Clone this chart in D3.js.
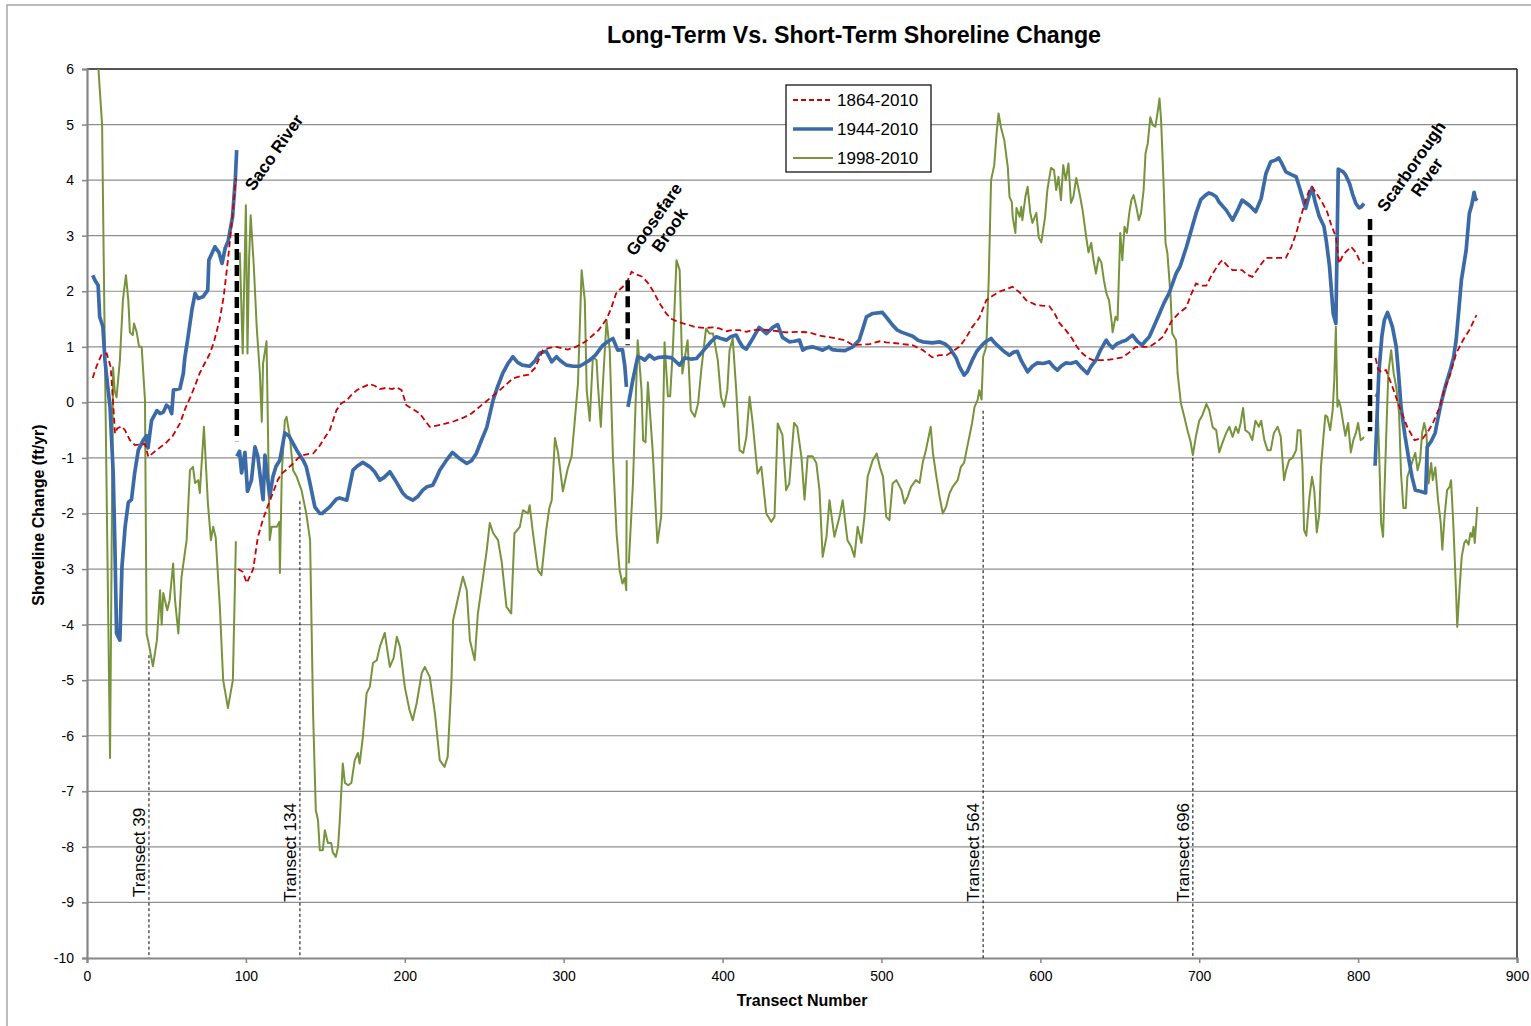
<!DOCTYPE html>
<html>
<head>
<meta charset="utf-8">
<script src="https://cdn.jsdelivr.net/npm/d3@7"></script>
<style>
  html, body { margin: 0; padding: 0; background: #fff; }
  svg { display: block; }
  text { font-family: "Liberation Sans", Arial, sans-serif; fill: #000; }
</style>
</head>
<body>
<svg id="chart" width="1531" height="1026"></svg>
<script>
// Shoreline change rate (ft/yr) by transect; null breaks the line at river inlets.
const longTerm1864 = [
  [3.6,0.44],[6,0.65],[9,0.85],[12.4,0.88],[14.9,0.64],[16.6,-0.08],[17.6,-0.56],[19,-0.47],[21.8,-0.43],[23.9,-0.5],
  [27,-0.68],[30.2,-0.77],[36.5,-0.75],[38.6,-0.98],[42,-0.9],[46,-0.81],[50,-0.72],[54,-0.6],[58.5,-0.38],[62,-0.1],
  [65,0.09],[68,0.3],[71,0.53],[74,0.7],[77.4,0.88],[80,1.1],[83.6,1.5],[86,1.9],[88.7,2.56],[91,3.2],[93.7,4.04],
  null,
  [95,-3.0],[98,-3.05],[100.6,-3.25],[103,-3.1],[104.6,-3.0],[107.5,-2.43],[110.8,-2.1],[114,-1.85],[117,-1.63],[120,-1.4],
  [122.6,-1.28],[126,-1.2],[129.7,-1.1],[133,-1.0],[136,-0.95],[139,-0.93],[142.3,-0.92],[146,-0.8],[149.7,-0.63],[152.8,-0.5],
  [157,-0.14],[160,-0.02],[163.5,0.04],[166,0.12],[169.8,0.22],[174,0.28],[178,0.33],[181,0.3],[184.3,0.24],[188,0.26],
  [192,0.24],[195,0.27],[198,0.22],[201,-0.05],[205,-0.12],[209.4,-0.2],[212,-0.3],[215.7,-0.44],[220,-0.42],[226,-0.38],
  [231,-0.34],[236.6,-0.28],[242,-0.2],[247,-0.08],[253.5,0.07],[257.7,0.17],[263,0.3],[268,0.43],[274,0.48],[278,0.5],
  [282,0.62],[287,0.94],[291,0.98],[295.5,1.0],[302.5,0.95],[306,0.98],[310,1.03],[314,1.1],[318,1.2],[322,1.3],
  [327,1.5],[330,1.7],[333,1.96],[336,2.05],[339.5,2.14],[342.7,2.35],[346,2.3],[349.7,2.26],[353,2.15],[356,2.02],
  [360,1.8],[364.5,1.6],[368,1.5],[373,1.44],[378,1.4],[383.5,1.35],[389,1.34],[394,1.35],[398,1.33],[402.5,1.28],
  [406,1.3],[410.7,1.3],[415,1.27],[419,1.3],[424,1.31],[429.5,1.3],[435,1.28],[440,1.26],[447,1.27],[454.7,1.26],
  [461,1.2],[466,1.18],[471.7,1.15],[477,1.12],[482,1.03],[487,1.04],[492.5,1.05],[499,1.1],[503,1.08],[507,1.07],
  [513,1.05],[519.5,1.03],[526,0.94],[532,0.81],[536.5,0.85],[541,0.85],[545,0.92],[549,1.0],[553,1.15],[557,1.35],
  [561.6,1.52],[566,1.84],[570,1.92],[574,1.99],[578,2.03],[582.5,2.08],[587,1.98],[591,1.84],[597.5,1.75],[601,1.74],
  [605.7,1.73],[609,1.6],[612,1.43],[616,1.3],[620,1.15],[623,1.0],[626.6,0.88],[630,0.8],[633,0.76],[637,0.76],
  [641.5,0.76],[646,0.78],[651.8,0.81],[656,0.9],[660,1.0],[664,1.0],[668.6,1.0],[673,1.08],[677,1.18],[683,1.48],
  [687,1.6],[691.8,1.71],[695,1.95],[698,2.14],[701,2.1],[704.5,2.1],[708,2.3],[712.6,2.5],[714.6,2.56],[718,2.45],
  [721,2.38],[724,2.38],[727,2.38],[730,2.3],[733.5,2.26],[738,2.45],[742,2.6],[748,2.6],[754.5,2.6],[758,2.8],
  [761,3.04],[764,3.35],[767,3.64],[769,3.8],[771,3.88],[774,3.75],[777.4,3.6],[780.5,3.43],[783,3.2],[786,2.98],
  [788,2.5],[790,2.62],[792,2.7],[795.6,2.8],[798.6,2.7],[801,2.55],[803.7,2.5],
  null,
  [811,0.8],[812.5,0.6],[814.5,0.55],[817.6,0.58],[821.6,0.28],[826,-0.08],[831,-0.45],[835.5,-0.68],[838,-0.66],[840.7,-0.65],
  [844,-0.52],[847,-0.38],[851.4,-0.08],[854,0.2],[857.6,0.47],[861.7,0.88],[866,1.12],[870,1.3],[874.5,1.57]
];

const midTerm1944 = [
  [3.6,2.29],[5,2.2],[7,2.11],[8,1.54],[10,1.36],[11.3,0.76],[13,0.3],[14.5,-0.08],[16.5,-1.28],[17.5,-2.5],
  [18.6,-4.16],[20.7,-4.28],[22,-2.96],[24,-2.24],[26,-1.8],[28,-1.75],[30,-1.27],[32.3,-0.86],[35.4,-0.68],[37.5,-0.6],
  [38.4,-0.82],[40.6,-0.33],[44,-0.15],[46,-0.2],[48,-0.18],[50,-0.05],[52,-0.1],[53.3,-0.2],[54.4,0.22],[58.5,0.25],
  [60.6,0.52],[61.6,0.81],[63.4,1.14],[66,1.66],[68,1.96],[70,1.87],[73,1.9],[76,2.02],[76.7,2.56],[80.5,2.8],
  [83,2.7],[85,2.5],[87,2.78],[88.8,2.9],[91.6,3.34],[93.4,4.04],[94.2,4.54],
  null,
  [94.3,-0.97],[96,-0.88],[97.3,-1.27],[99.4,-0.9],[101,-1.6],[103.5,-1.4],[105.7,-0.8],[107.5,-0.97],[110.8,-1.75],[112,-0.95],
  [115,-1.7],[117,-1.34],[119,-1.15],[121.4,-1.04],[124.5,-0.55],[127,-0.6],[129.7,-0.74],[132,-0.86],[136,-1.04],[138,-1.16],
  [140,-1.41],[143.4,-1.88],[146.5,-2.0],[148,-2.0],[150,-1.95],[152.8,-1.88],[157,-1.74],[159,-1.72],[163.5,-1.76],[167.4,-1.22],
  [170,-1.15],[173.6,-1.08],[178,-1.16],[181,-1.25],[184.3,-1.4],[187,-1.35],[190.6,-1.25],[194,-1.4],[198.7,-1.63],[201,-1.7],
  [205,-1.76],[208,-1.7],[211.3,-1.58],[214,-1.52],[217.6,-1.49],[220,-1.35],[222,-1.22],[226,-1.05],[230,-0.9],[234,-1.0],
  [239,-1.1],[242,-1.05],[245,-0.92],[248,-0.7],[251.6,-0.45],[255.6,0.04],[258,0.25],[261.6,0.52],[265,0.7],[268,0.82],
  [271,0.72],[274,0.67],[278.6,0.65],[282,0.75],[285,0.89],[289,0.92],[292.5,0.73],[295.5,0.82],[298,0.75],[301.7,0.67],
  [306,0.65],[310,0.65],[313,0.7],[316.4,0.76],[320,0.85],[324.7,1.03],[328,1.1],[331,1.15],[334,0.94],[337,0.95],
  [338.5,0.65],[339.5,0.28],
  null,
  [340.5,-0.08],[343.5,0.4],[346.6,0.82],[349,0.8],[351,0.76],[354,0.85],[357,0.78],[360,0.81],[364,0.82],[368,0.8],
  [373,0.67],[376,0.8],[380,0.78],[383.6,0.79],[387,0.9],[390,1.0],[393,1.1],[396,1.18],[399,1.15],[402.5,1.12],
  [405,1.18],[408.6,1.21],[410.5,1.1],[412.6,1.0],[415,0.96],[419,1.15],[423,1.35],[427.7,1.24],[431.6,1.35],[434.7,1.4],
  [437.7,1.17],[442,1.09],[445,1.1],[448.4,1.12],[450.5,0.94],[453,0.98],[456.6,1.0],[460,0.97],[463,0.94],[467,1.0],
  [469,0.95],[471.7,0.94],[477,0.93],[482,1.0],[486,1.12],[488,1.3],[490.6,1.54],[494.5,1.6],[500.6,1.62],[504,1.5],
  [507,1.39],[510,1.3],[513,1.26],[519.7,1.19],[523,1.12],[526,1.09],[532,1.07],[536.5,1.09],[540,1.05],[543,0.98],
  [547,0.8],[549,0.65],[552,0.49],[554,0.55],[557.5,0.78],[560,0.92],[563.6,1.04],[566,1.1],[569,1.15],[571,1.08],
  [574,1.0],[577,0.92],[580.5,0.85],[583,0.9],[585.5,0.92],[588,0.75],[592,0.55],[595,0.65],[598,0.71],[602,0.7],
  [605.7,0.73],[608,0.65],[610.7,0.58],[613,0.65],[616,0.71],[619,0.7],[622.6,0.73],[626,0.62],[629.6,0.52],[632,0.65],
  [635,0.76],[638,0.95],[641.5,1.12],[643,1.05],[645.5,0.98],[648,1.05],[651,1.09],[654,1.12],[658,1.21],[661,1.1],
  [664,1.03],[666,1.1],[668.6,1.18],[672,1.4],[675,1.6],[678,1.8],[681,1.96],[685.5,2.32],[688,2.45],[692,2.8],
  [695,3.1],[698,3.4],[701,3.65],[704,3.73],[706,3.77],[708,3.75],[710.7,3.7],[712.6,3.6],[717,3.46],[721,3.28],
  [724,3.45],[727,3.64],[731.4,3.55],[735.5,3.43],[739,3.67],[742,4.12],[745,4.33],[748,4.36],[750,4.4],[752,4.3],
  [754.5,4.15],[758,4.1],[761,4.06],[763.5,3.83],[767,3.49],[769,3.7],[771,3.86],[773,3.6],[775.5,3.35],[778.5,3.17],
  [780,2.9],[782,2.45],[784.3,1.6],[786,1.42],[787.5,4.2],[790.6,4.15],[792,4.1],[794.6,3.94],[796.5,3.75],[798.6,3.58],
  [800.6,3.5],[802,3.52],[803.7,3.58],
  null,
  [810.7,-1.14],[813,0.52],[815,1.2],[816.5,1.48],[818.5,1.62],[820,1.5],[821.6,1.36],[824,1.0],[825.5,0.5],[827,-0.08],
  [829.5,-0.6],[832,-1.04],[834,-1.35],[836,-1.58],[839,-1.6],[842.5,-1.63],[843.5,-0.8],[846,-0.7],[848.5,-0.55],[850.5,-0.25],
  [852.6,0.03],[855,0.3],[858,0.58],[860,0.8],[861.7,1.12],[863.5,1.7],[865,2.2],[868,2.74],[870,3.4],[871.5,3.55],
  [873,3.78],[874,3.65],[875,3.68]
];

const shortTerm1998 = [
  [6.5,6.3],[9.5,5.0],[11.3,0.75],[14.5,-6.4],[16.4,0.63],[17.5,0.2],[18.6,0.09],[20.7,0.76],[22.6,1.84],[24.5,2.29],
  [26,1.84],[27,1.26],[28.8,1.21],[29.6,1.42],[31.3,1.26],[32.8,1.0],[34.4,1.0],[36.5,0.04],[37.5,-4.16],[38.4,-4.28],
  [41.5,-4.75],[44,-4.28],[46,-3.38],[47,-4.0],[48,-3.43],[50.5,-3.74],[52,-3.56],[54.2,-2.9],[55.4,-3.56],[57.5,-4.16],
  [59.5,-3.14],[62.7,-2.48],[64.8,-1.22],[66.7,-1.16],[68,-1.45],[70,-1.4],[71,-1.63],[73.6,-0.44],[76.1,-1.82],[78,-2.48],
  [79.4,-2.24],[81,-2.43],[83.6,-3.68],[85.7,-5.0],[88.7,-5.5],[91.8,-5.0],[93.7,-2.5],
  null,
  [96.2,2.7],[98,0.88],[100,3.55],[101,0.88],[102,2.56],[103,3.37],[105,2.44],[106.8,1.36],[108.8,0.52],[110,-0.35],
  [110.8,0.7],[113,1.1],[115,-2.48],[116.2,-2.24],[119.4,-2.24],[121,-2.15],[121.4,-3.07],[122.6,-1.28],[124.5,-0.33],[125.6,-0.26],
  [127.7,-0.62],[129.7,-1.22],[132,-1.34],[135,-1.58],[138,-2.0],[140.4,-2.48],[142.3,-5.6],[144,-7.34],[145.4,-7.52],[146.5,-8.06],
  [148.4,-8.06],[149.7,-7.7],[151.6,-7.93],[153.7,-7.93],[154.7,-8.1],[156.6,-8.18],[158,-8.0],[159,-7.57],[161,-6.5],[162.3,-6.85],
  [164.4,-6.89],[166.4,-6.85],[168.5,-6.44],[170.5,-6.31],[171.6,-6.5],[173.6,-6.03],[176,-5.23],[178,-5.12],[180,-4.69],[182.4,-4.64],
  [184.3,-4.4],[187.4,-4.15],[190.6,-4.76],[193,-4.6],[195,-4.22],[197,-4.4],[200,-5.12],[203,-5.54],[205,-5.72],[207.5,-5.41],
  [210.7,-4.87],[212.6,-4.76],[215.7,-4.94],[219,-5.6],[222,-6.44],[225,-6.56],[227,-6.38],[229.4,-5.0],[230.4,-3.92],[234.6,-3.38],
  [236.6,-3.14],[239,-3.38],[241,-4.28],[244,-4.64],[246,-3.8],[249,-3.2],[251.6,-2.66],[253.5,-2.17],[255.6,-2.35],[258.7,-2.48],
  [261,-2.87],[264,-3.68],[267,-3.8],[269,-2.36],[272.4,-2.24],[274.4,-1.94],[277.5,-2.0],[278.6,-1.85],[280.7,-2.36],[283.8,-3.02],
  [286,-3.11],[289,-2.3],[291,-1.9],[292.5,-1.76],[294.5,-0.64],[296.5,-0.91],[299.5,-1.6],[302.5,-1.2],[305,-0.97],[307,-0.33],
  [309,0.34],[311.3,2.38],[313.3,1.84],[314.5,0.22],[316.4,-0.33],[318.4,0.82],[320.7,0.76],[321.5,0.34],[323.4,-0.44],[324.7,0.34],
  [327,1.48],[329,0.94],[331,-0.97],[333.3,-2.36],[335.2,-3.02],[337,-3.26],[338.4,-3.16],[339.4,-3.38],[339.7,-1.04],
  null,
  [341,-2.9],[343.6,-1.46],[346.6,1.12],[349,0.22],[350,-0.68],[351.5,-0.72],[353,0.36],[356,-0.86],[359,-2.53],[361.4,-2.05],
  [363.5,1.08],[365.6,0.11],[367,0.11],[368.7,0.94],[371,2.56],[373,2.38],[374.7,0.52],[376,0.76],[378,1.12],[380,-0.14],
  [382.5,-0.26],[384.6,-0.02],[386.6,0.58],[389.6,1.33],[391.8,1.24],[394,1.24],[397,0.76],[399,0.1],[401,-0.08],[403,0.22],
  [404.4,0.94],[406.4,1.15],[408.6,0.22],[410.7,-0.86],[413,-0.91],[415,-0.62],[417,0.1],[419,-0.38],[422,-1.28],[424.4,-1.16],
  [427.5,-2.0],[430.6,-2.15],[432.7,-2.06],[434.7,-0.38],[437.7,-0.59],[440,-1.58],[442,-1.46],[445,-0.37],[447,-0.44],[449.6,-0.97],
  [451.6,-1.75],[453.6,-0.97],[456.6,-0.97],[459,-1.09],[461,-1.58],[463,-2.78],[465.4,-2.42],[467.3,-1.76],[470.4,-2.42],[473.6,-2.06],
  [475.6,-1.76],[478.6,-2.48],[481,-2.6],[483,-2.78],[485,-2.24],[487.4,-2.53],[489.3,-2.06],[491.3,-1.34],[494.5,-1.04],[497,-0.92],
  [499,-1.16],[501,-1.34],[503,-2.06],[505,-2.12],[507,-1.46],[509.4,-1.4],[512.6,-1.58],[514.5,-1.82],[516.5,-1.7],[518.6,-1.52],
  [521.7,-1.4],[524,-1.45],[526,-1.08],[528,-0.86],[531,-0.44],[532.4,-0.91],[534.6,-1.34],[536.6,-1.7],[538.6,-2.0],[540.7,-1.88],
  [542.8,-1.64],[544.8,-1.52],[548,-1.4],[550,-1.16],[552,-1.09],[554,-0.8],[557,-0.38],[558.6,-0.08],[560.5,0.04],[561.6,0.22],
  [563,0.05],[564,0.82],[566,1.0],[567.5,2.2],[569,4.0],[571,4.27],[572.5,4.85],[573.7,5.2],[575.3,4.94],[577.3,4.72],
  [579.5,4.24],[580.6,3.7],[582,3.61],[582.6,3.34],[584.3,3.05],[585,3.5],[587,3.34],[588,3.52],[588.7,3.28],[590.6,3.7],
  [592,3.88],[593.7,3.41],[595,3.23],[597.5,3.41],[599,2.97],[600.6,2.88],[603,3.34],[604.4,3.82],[606.7,4.22],[608.6,4.18],
  [610,3.82],[611.4,4.06],[613,3.64],[614.4,4.27],[616,4.0],[617.7,4.3],[619.3,3.59],[620.8,3.7],[622.6,4.04],[624.6,3.77],
  [626.6,3.46],[628.9,2.97],[630.3,2.7],[632,2.87],[633.5,2.56],[635,2.32],[636.7,2.61],[638.4,2.52],[640,2.2],[641.6,1.96],
  [643.2,1.84],[645,1.43],[645.5,1.26],[647.3,1.54],[648.6,1.48],[650.3,3.05],[651.6,2.56],[653,3.16],[654.5,3.05],[656,3.41],
  [657.3,3.64],[658.7,3.73],[660.4,3.52],[662,3.28],[663.4,3.41],[665,3.82],[666.2,4.48],[667.6,4.66],[669.2,5.13],[670.8,4.99],
  [672.4,4.96],[674,5.26],[675,5.47],[676,5.08],[677.5,4.0],[678.8,2.87],[680,2.68],[682,1.9],[683,1.24],[685.4,1.12],
  [686.4,0.52],[688.5,-0.02],[690.6,-0.26],[692.6,-0.5],[694.5,-0.7],[696,-0.95],[698,-0.6],[700,-0.33],[702,-0.23],[704.5,-0.03],
  [706.3,-0.14],[708.5,-0.45],[710.7,-0.5],[712.6,-0.9],[714.6,-0.73],[717,-0.55],[719,-0.44],[721,-0.62],[723,-0.44],[724.6,-0.55],
  [726,-0.38],[727.6,-0.1],[729,-0.5],[731.4,-0.55],[733.4,-0.68],[735.4,-0.33],[737.6,-0.44],[739,-0.33],[741,-0.68],[743,-0.86],
  [745,-0.86],[747,-0.55],[749.4,-0.44],[751.3,-0.62],[753.4,-1.4],[754.7,-1.22],[756.6,-1.04],[758.6,-1.0],[761,-0.86],[762,-0.5],
  [763.7,-0.5],[765,-1.17],[766,-2.3],[767.4,-2.4],[769.4,-1.7],[771,-1.34],[772.4,-1.58],[774,-2.34],[775.6,-2.0],[776.6,-1.17],
  [778,-0.68],[779.4,-0.23],[780.6,-0.26],[782.4,-0.5],[784,-0.14],[785,0.4],[786,1.36],[787,-0.08],[787.7,0.04],[789,-0.08],
  [790.6,-0.37],[792,-0.6],[793.7,-0.37],[795.4,-0.9],[797,-0.68],[798.6,-0.55],[800,-0.37],[801.6,-0.68],[803,-0.65],[803.7,-0.62],
  null,
  [810.7,0.1],[812,0.17],[813,-0.68],[814.5,-2.18],[815.7,-2.42],[817.6,-0.68],[819,0.52],[820.8,0.94],[822.4,0.52],[824,0.28],
  [825.8,-0.2],[827,-1.28],[828.5,-1.9],[830,-1.9],[831,-1.34],[833,-1.17],[834.4,-1.04],[836,-0.91],[837.4,-1.22],[839,-1.04],
  [840.3,-0.55],[841.6,-0.37],[843,-0.55],[844.4,-1.46],[846,-1.09],[847,-1.4],[848.6,-1.17],[850.3,-1.76],[852,-2.17],[853,-2.65],
  [854.4,-2.06],[856,-1.58],[857.6,-1.52],[858.5,-1.4],[860,-2.24],[861.6,-3.38],[862.4,-4.04],[863.8,-3.38],[865.2,-2.78],[866.8,-2.53],
  [868,-2.48],[869.5,-2.56],[870.7,-2.35],[871.7,-2.42],[872.6,-2.24],[873.4,-2.53],[875,-1.88]
];

const seriesNames = ["1864-2010", "1944-2010", "1998-2010"];
const xTickValues = [0, 100, 200, 300, 400, 500, 600, 700, 800, 900];
const yTickValues = d3.range(-10, 7, 1);

// River inlets: transect, top and bottom of the marker, label lines
const inlets = [
  { t: 94.3,  top: 3.05, bottom: -0.7, lines: ["Saco River"] },
  { t: 340.3, top: 2.2,  bottom: 1.03, lines: ["Goosefare", "Brook"] },
  { t: 807.5, top: 3.3,  bottom: -0.52, lines: ["Scarborough", "River"] }
];
// Reference transects: transect number and value where the drop line starts
const refTransects = [
  { t: 39,  top: -4.55, label: "Transect 39" },
  { t: 134, top: -1.78, label: "Transect 134" },
  { t: 564, top: -0.15, label: "Transect 564" },
  { t: 696, top: -1.0,  label: "Transect 696" }
];

const svg = d3.select("#chart");
const W = 1531, H = 1026;
const m = { left: 87, right: 1517, top: 69, bottom: 958 };

// outer chart frame
svg.append("rect").attr("x", 7).attr("y", 5).attr("width", W + 10).attr("height", H + 10)
  .attr("fill", "none").attr("stroke", "#a6a6a6").attr("stroke-width", 1.5);

const x = d3.scaleLinear().domain([0, 900]).range([m.left, m.right]);
const y = d3.scaleLinear().domain([-10, 6]).range([m.bottom, m.top]);

// horizontal gridlines
svg.append("g").selectAll("line").data(yTickValues.filter(v => v > -10 && v < 6)).join("line")
  .attr("x1", m.left).attr("x2", m.right)
  .attr("y1", d => y(d)).attr("y2", d => y(d))
  .attr("stroke", "#8e8e8e").attr("stroke-width", 1.2);

// plot area border (top and right)
svg.append("line").attr("x1", m.left).attr("x2", m.right).attr("y1", m.top).attr("y2", m.top)
  .attr("stroke", "#555").attr("stroke-width", 2);
svg.append("line").attr("x1", m.right).attr("x2", m.right).attr("y1", m.top).attr("y2", m.bottom)
  .attr("stroke", "#222").attr("stroke-width", 1.5);

// axes
const plain = d => String(d);
const yAxis = d3.axisLeft(y).tickValues(yTickValues).tickSize(5).tickPadding(8).tickFormat(plain);
const gy = svg.append("g").attr("transform", `translate(${m.left},0)`).call(yAxis);
const xAxis = d3.axisBottom(x).tickValues(xTickValues).tickSize(5).tickPadding(8).tickFormat(plain);
const gx = svg.append("g").attr("transform", `translate(0,${m.bottom})`).call(xAxis);
[gx, gy].forEach(g => {
  g.select(".domain").attr("stroke", "#868686").attr("stroke-width", 2.2);
  g.selectAll(".tick line").attr("stroke", "#868686").attr("stroke-width", 1.5);
  g.selectAll(".tick text").attr("font-size", 14).attr("font-family", "Liberation Sans, Arial, sans-serif").attr("fill", "#000");
});

// clip for series
svg.append("clipPath").attr("id", "plotClip").append("rect")
  .attr("x", m.left).attr("y", m.top).attr("width", m.right - m.left).attr("height", m.bottom - m.top);

// reference transect drop lines
const ref = svg.append("g");
ref.selectAll("line").data(refTransects).join("line")
  .attr("x1", d => x(d.t)).attr("x2", d => x(d.t))
  .attr("y1", d => y(d.top)).attr("y2", m.bottom)
  .attr("stroke", "#000").attr("stroke-width", 1).attr("stroke-dasharray", "3,2.5");
ref.selectAll("text").data(refTransects).join("text")
  .attr("transform", d => `translate(${x(d.t) - 4},${y(-8.1)}) rotate(-90)`)
  .attr("text-anchor", "middle")
  .attr("font-size", 17)
  .text(d => d.label);

const line = d3.line().defined(d => d !== null).x(d => x(d[0])).y(d => y(d[1]));
const plot = svg.append("g").attr("clip-path", "url(#plotClip)");

plot.append("path").datum(shortTerm1998).attr("d", line)
  .attr("fill", "none").attr("stroke", "#77933c").attr("stroke-width", 2).attr("stroke-linejoin", "round");
plot.append("path").datum(midTerm1944).attr("d", line)
  .attr("fill", "none").attr("stroke", "#3c6aa6").attr("stroke-width", 3.7).attr("stroke-linejoin", "round");
plot.append("path").datum(longTerm1864).attr("d", line)
  .attr("fill", "none").attr("stroke", "#cc0000").attr("stroke-width", 1.8).attr("stroke-dasharray", "6,3.5");

// inlet markers
const inl = svg.append("g");
inl.selectAll("line").data(inlets).join("line")
  .attr("x1", d => x(d.t)).attr("x2", d => x(d.t))
  .attr("y1", d => y(d.top)).attr("y2", d => y(d.bottom))
  .attr("stroke", "#000").attr("stroke-width", 4.5).attr("stroke-dasharray", "11,5");

// inlet labels
const labelPos = [
  { cx: x(94.3) + 37, cy: y(4.5) },
  { cx: x(340.3) + 34, cy: y(3.2) },
  { cx: x(807.5) + 49, cy: y(4.15) }
];
inlets.forEach((d, i) => {
  const g = svg.append("g").attr("transform", `translate(${labelPos[i].cx},${labelPos[i].cy}) rotate(-55)`);
  const n = d.lines.length;
  d.lines.forEach((s, k) => {
    g.append("text").attr("text-anchor", "middle").attr("font-weight", "bold").attr("font-size", 17)
      .attr("x", 0).attr("y", (k - (n - 1) / 2) * 19 + 6).text(s);
  });
});

// legend
const lg = svg.append("g").attr("transform", "translate(786,85)");
lg.append("rect").attr("width", 145).attr("height", 87).attr("fill", "#fff").attr("stroke", "#000").attr("stroke-width", 1.2);
const legendStyles = [
  { color: "#cc0000", width: 1.8, dash: "5,3" },
  { color: "#3c6aa6", width: 3.7, dash: null },
  { color: "#77933c", width: 2, dash: null }
];
seriesNames.forEach((name, i) => {
  const yy = 15 + i * 29;
  lg.append("line").attr("x1", 7).attr("x2", 47).attr("y1", yy).attr("y2", yy)
    .attr("stroke", legendStyles[i].color).attr("stroke-width", legendStyles[i].width)
    .attr("stroke-dasharray", legendStyles[i].dash);
  lg.append("text").attr("x", 51).attr("y", yy + 6).attr("font-size", 17).text(name);
});

// titles
svg.append("text").attr("x", 854).attr("y", 43).attr("text-anchor", "middle")
  .attr("font-family", "Carlito, Calibri, 'Liberation Sans Narrow', 'Liberation Sans', sans-serif")
  .attr("font-weight", "bold").attr("font-size", 24)
  .attr("textLength", 494).attr("lengthAdjust", "spacingAndGlyphs")
  .text("Long-Term Vs. Short-Term Shoreline Change");
svg.append("text").attr("transform", "translate(44,515) rotate(-90)")
  .attr("text-anchor", "middle").attr("font-weight", "bold").attr("font-size", 16)
  .text("Shoreline Change (ft/yr)");
svg.append("text").attr("x", 802).attr("y", 1006).attr("text-anchor", "middle")
  .attr("font-weight", "bold").attr("font-size", 16)
  .text("Transect Number");
</script>
</body>
</html>
